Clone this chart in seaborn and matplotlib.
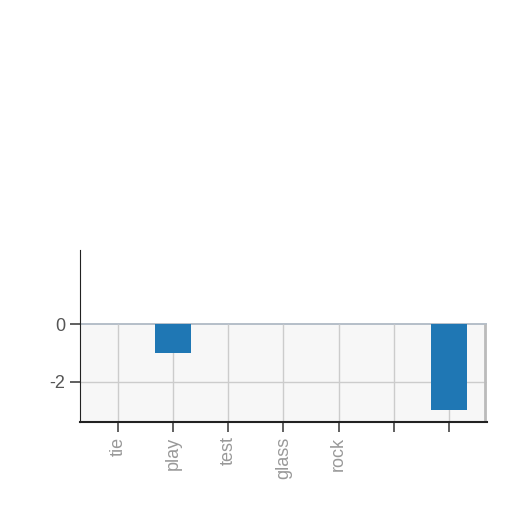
from matplotlib import pyplot as plt
import pandas as pd
import seaborn as sns

# categories and values
categories = ["tie", "play", "test", "glass", "rock", "c6", "c7"]
tick_labels = ["tie", "play", "test", "glass", "rock", "", ""]
values = [0, -1, 0, 0, 0, 0, -3]

df = pd.DataFrame({"word": categories, "score": values})

sns.set_style("whitegrid")
plt.rcParams["font.family"] = ["Liberation Sans", "DejaVu Sans"]
plt.rcParams["axes.unicode_minus"] = False

fig = plt.figure(figsize=(5.12, 5.12), dpi=100)
ax = fig.add_axes([0.156, 0.176, 0.795, 0.336])
sns.barplot(data=df, x="word", y="score", order=categories, color="#1f77b4",
            saturation=1, width=0.65, linewidth=0, ax=ax, zorder=3)

ymin, ymax = -3.4, 2.6
ax.set_xlim(-0.69, len(categories) - 0.31)
ax.set_ylim(ymin, ymax)
ax.set_yticks([0, -2])
ax.set_xticks(range(len(categories)))
ax.set_xticklabels(tick_labels, rotation=90, color="#999999")
ax.tick_params(axis="y", colors="#555555", labelsize=13)
ax.tick_params(axis="x", labelsize=13)
ax.tick_params(axis="both", length=7, width=1.2, color="#444444", left=True, bottom=True)
ax.set_xlabel("")
ax.set_ylabel("")

# grid and light panel only in the lower part, like the reference
ax.grid(False)
ax.axhspan(ymin, 0, color="#f7f7f7", zorder=0)
ax.axhline(-2, color="#cccccc", lw=1, zorder=1)
ax.axhline(0, color="#aab4c0", lw=1.2, zorder=1)
ax.vlines(range(len(categories)), ymin, 0, color="#cccccc", lw=1, zorder=1)
ax.vlines(len(categories) - 0.34, ymin, 0, color="#bbbbbb", lw=2, zorder=1)

ax.spines["top"].set_visible(False)
ax.spines["right"].set_visible(False)
ax.spines["left"].set_color("#222222")
ax.spines["bottom"].set_color("#222222")
ax.spines["bottom"].set_linewidth(1.5)

fig.savefig("out.png", dpi=100)
